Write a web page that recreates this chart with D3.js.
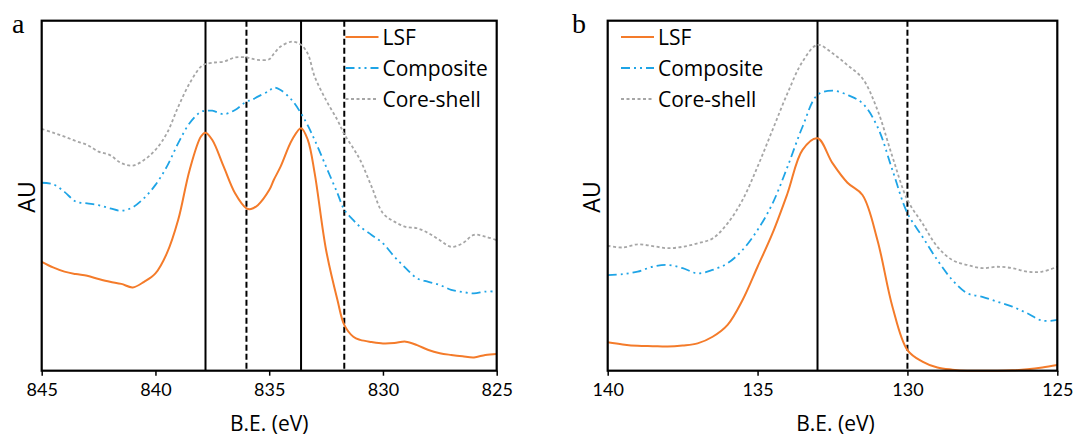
<!DOCTYPE html>
<html>
<head>
<meta charset="utf-8">
<script src="https://cdn.jsdelivr.net/npm/d3@7"></script>
<style>
  body { margin: 0; background: #fff; }
  text { font-family: "Open Sans", Lato, sans-serif; fill: #000; }
</style>
</head>
<body>
<div id="chart"></div>
<script>
// series names + colours
var seriesNames = ["LSF", "Composite", "Core-shell"];
var seriesColors = ["#f47b2a", "#1ea4e6", "#a6a6a6"];
var seriesDash = [null, "9,4,2,4,2,4", "3,2.5"];

// panel a : Fe 2p region (B.E. in eV, intensity in arbitrary units 0-100)
var beA = [845, 844.5, 844, 843.5, 843, 842.5, 842, 841.5, 841, 840.5, 840, 839.5, 839, 838.5, 838, 837.8, 837.5, 837, 836.5, 836, 835.8, 835.5, 835, 834.8, 834.5, 834, 833.6, 833.3, 833, 832.5, 832, 831.7, 831.3, 831, 830.5, 830, 829.5, 829, 828.5, 828, 827.5, 827, 826.5, 826, 825.5, 825];
var lsfA = [31.1, 29.5, 28.3, 27.6, 27.1, 26.2, 25.4, 24.8, 23.8, 25.4, 27.8, 33.5, 43.1, 57.3, 66.9, 68.0, 65.9, 58.3, 50.7, 46.4, 46.2, 47.3, 51.6, 54.5, 58.3, 65.9, 69.3, 65.9, 56.4, 34.5, 20.2, 13.1, 9.7, 8.8, 8.2, 7.8, 7.9, 8.3, 7.3, 5.9, 5.0, 4.5, 4.1, 3.8, 4.5, 4.8];
var compA = [53.7, 53.3, 51.1, 48.3, 47.8, 47.3, 46.4, 45.7, 46.7, 49.3, 53.1, 58.3, 65.0, 70.7, 74.0, 74.2, 74.3, 73.3, 74.5, 76.9, 77.3, 78.3, 80.0, 80.9, 80.2, 77.3, 73.5, 70.0, 65.9, 58.3, 50.7, 46.0, 43.0, 41.1, 38.8, 36.4, 32.6, 29.3, 26.4, 25.4, 24.5, 23.1, 22.5, 22.1, 22.6, 22.6];
var coreA = [69.1, 68.0, 66.9, 65.6, 64.5, 62.6, 61.6, 59.3, 58.6, 60.2, 63.1, 67.8, 75.4, 82.1, 86.9, 87.6, 88.0, 88.3, 89.5, 89.5, 89.2, 88.8, 89.0, 90.5, 92.6, 94.0, 93.1, 90.5, 84.0, 77.3, 71.6, 67.6, 63.5, 60.2, 52.6, 45.0, 42.6, 41.1, 40.7, 39.3, 37.3, 35.4, 36.4, 38.8, 38.3, 37.3];
var solidA = [837.8, 833.6];
var dashedA = [836.0, 831.7];
var ticksA = [845, 840, 835, 830, 825];

// panel b
var beB = [140, 139.5, 139, 138.5, 138, 137.5, 137, 136.5, 136, 135.5, 135, 134.5, 134, 133.5, 133, 132.5, 132, 131.5, 131, 130.5, 130, 129.5, 129, 128.5, 128, 127.5, 127, 126.5, 126, 125.5, 125];
var lsfB = [8.1, 7.5, 7.1, 7.0, 6.9, 7.2, 7.8, 9.7, 13.1, 20.2, 29.7, 39.3, 50.7, 63.1, 66.4, 59.3, 53.7, 50.2, 37.3, 18.3, 5.9, 2.6, 0.9, 0.3, 0.0, 0.0, 0.0, 0.1, 0.4, 0.9, 1.6];
var compB = [27.3, 27.6, 28.3, 29.7, 30.2, 29.3, 27.8, 28.8, 30.7, 34.5, 40.2, 47.8, 58.3, 69.7, 78.8, 80.0, 78.8, 76.4, 69.7, 57.3, 45.0, 38.3, 31.6, 25.9, 22.1, 21.1, 19.7, 18.3, 16.4, 14.3, 14.5];
var coreB = [35.7, 35.2, 36.1, 35.6, 35.0, 35.4, 36.4, 37.8, 42.1, 48.8, 58.3, 68.8, 79.3, 88.3, 93.1, 90.7, 87.3, 83.5, 74.5, 61.1, 48.8, 42.1, 35.4, 31.6, 30.2, 29.3, 29.7, 29.3, 28.3, 28.3, 29.7];
var solidB = [133.0];
var dashedB = [130.0];
var ticksB = [140, 135, 130, 125];

var svg = d3.select("#chart").append("svg")
    .attr("width", 1091)
    .attr("height", 438);

// plot area top / bottom (don't call it "top", that's window.top)
var plotTop = 20.7, plotBottom = 370.7;
var y = d3.scaleLinear().domain([0, 100]).range([plotBottom, plotTop]);

function drawPanel(p) {
  var x = d3.scaleLinear().domain(p.domain).range([p.left, p.right]);
  var g = svg.append("g");

  // reference lines (behind curves)
  p.solid.forEach(function(v) {
    g.append("line").attr("x1", x(v)).attr("x2", x(v)).attr("y1", plotTop).attr("y2", plotBottom)
      .attr("stroke", "#000").attr("stroke-width", 2);
  });
  p.dashed.forEach(function(v) {
    g.append("line").attr("x1", x(v)).attr("x2", x(v)).attr("y1", plotTop).attr("y2", plotBottom)
      .attr("stroke", "#000").attr("stroke-width", 2).attr("stroke-dasharray", "6,3");
  });

  var line = d3.line()
      .x(function(d) { return x(d[0]); })
      .y(function(d) { return y(d[1]); })
      .curve(d3.curveCatmullRom.alpha(0.5));

  // draw core-shell first, LSF on top
  [2, 1, 0].forEach(function(i) {
    var pts = p.be.map(function(b, j) { return [b, p.series[i][j]]; });
    g.append("path").datum(pts)
      .attr("d", line)
      .attr("fill", "none")
      .attr("stroke", seriesColors[i])
      .attr("stroke-width", i == 0 ? 2 : 1.8)
      .attr("stroke-dasharray", seriesDash[i]);
  });

  // frame
  g.append("rect").attr("x", p.left).attr("y", plotTop)
    .attr("width", p.right - p.left).attr("height", plotBottom - plotTop)
    .attr("fill", "none").attr("stroke", "#000").attr("stroke-width", 2.2);

  var ax = g.append("g")
      .attr("transform", "translate(0," + plotBottom + ")")
      .call(d3.axisBottom(x).tickValues(p.ticks).tickSize(5).tickSizeOuter(0).tickPadding(8));
  ax.select(".domain").remove();
  ax.selectAll(".tick line").attr("stroke", "#000").attr("stroke-width", 1.5);
  ax.selectAll(".tick text").style("font-family", "Lato, sans-serif").style("font-size", "18px").attr("fill", "#000");

  g.append("text")
    .attr("x", (p.left + p.right) / 2 + p.titleShift).attr("y", 431)
    .attr("text-anchor", "middle")
    .style("font-size", "21px")
    .text("B.E. (eV)");

  g.append("text")
    .attr("transform", "translate(" + p.auX + ",197)rotate(-90)")
    .attr("text-anchor", "middle")
    .style("font-size", "23px")
    .text("AU");

  g.append("text")
    .attr("x", p.tagX).attr("y", 33)
    .style("font-family", "'Liberation Serif', serif")
    .style("font-size", "28px")
    .text(p.tag);

  // legend
  seriesNames.forEach(function(name, i) {
    var ly = 37 + i * 31;
    g.append("line")
      .attr("x1", p.legX).attr("x2", p.legX + 33).attr("y1", ly).attr("y2", ly)
      .attr("stroke", seriesColors[i]).attr("stroke-width", 2)
      .attr("stroke-dasharray", seriesDash[i]);
    g.append("text")
      .attr("x", p.legX + 37).attr("y", ly + 8)
      .style("font-size", "21px")
      .text(name);
  });
}

drawPanel({
  domain: [845, 825], left: 41.7, right: 496.7,
  be: beA, series: [lsfA, compA, coreA],
  solid: solidA, dashed: dashedA, ticks: ticksA,
  titleShift: 0, auX: 35, tagX: 12, tag: "a", legX: 345.5
});

drawPanel({
  domain: [140, 125], left: 607.7, right: 1057.3,
  be: beB, series: [lsfB, compB, coreB],
  solid: solidB, dashed: dashedB, ticks: ticksB,
  titleShift: 3, auX: 600, tagX: 572, tag: "b", legX: 621
});
</script>
</body>
</html>
